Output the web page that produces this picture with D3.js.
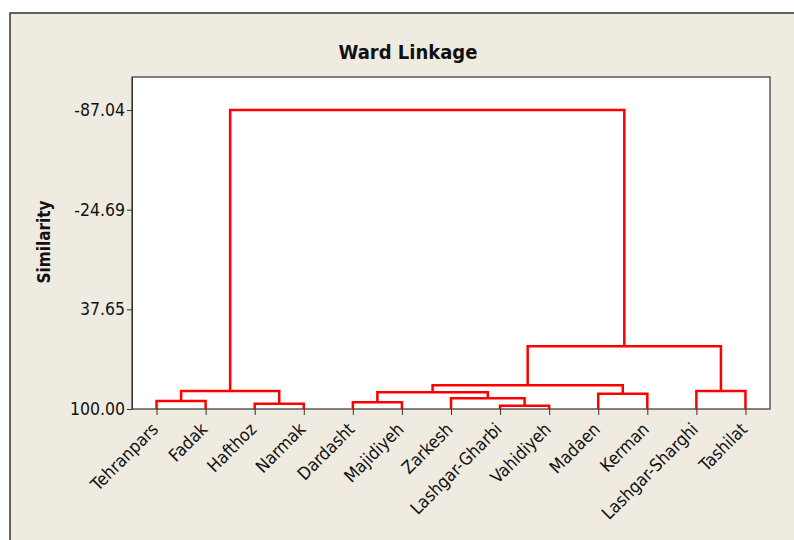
<!DOCTYPE html>
<html>
<head>
<meta charset="utf-8">
<script src="https://cdn.jsdelivr.net/npm/d3@7"></script>
<style>
  body { margin: 0; background: #fff; }
  svg { display: block; }
  text { font-family: "DejaVu Sans Condensed", "DejaVu Sans", sans-serif; fill: #111; }
</style>
</head>
<body>
<svg></svg>
<script>
var width = 794;
var height = 540;

// leaves in dendrogram order
var leaves = ["Tehranpars", "Fadak", "Hafthoz", "Narmak", "Dardasht", "Majidiyeh", "Zarkesh",
              "Lashgar-Gharbi", "Vahidiyeh", "Madaen", "Kerman", "Lashgar-Sharghi", "Tashilat"];

// merge steps: ids 0..12 are leaves, 13.. are the clusters made below (in order)
var mergePairs = [[7, 8], [2, 3], [4, 5], [0, 1], [6, 13], [9, 10], [15, 17],
                  [16, 14], [11, 12], [19, 18], [22, 21], [20, 23]];
var mergeSim = [97.9, 96.7, 95.8, 95.0, 93.3, 90.4, 89.55, 88.7, 88.7, 85.2, 60.8, -87.04];

var yTicks = [-87.04, -24.69, 37.65, 100.00];

var plot = {left: 132, right: 770, top: 77, bottom: 409};

var svg = d3.select("svg")
    .attr("width", width)
    .attr("height", height);

// outer frame
svg.append("rect")
    .attr("x", 10).attr("y", 13)
    .attr("width", 820).attr("height", 560)
    .attr("fill", "#efebe1")
    .attr("stroke", "#333").attr("stroke-width", 1.5);

svg.append("text")
    .attr("x", 408).attr("y", 59)
    .attr("text-anchor", "middle")
    .style("font-weight", "bold")
    .style("font-size", "20px")
    .text("Ward Linkage");

// plot area
svg.append("rect")
    .attr("x", plot.left).attr("y", plot.top)
    .attr("width", plot.right - plot.left).attr("height", plot.bottom - plot.top)
    .attr("fill", "#fff")
    .attr("stroke", "#333").attr("stroke-width", 1.2);

var x = d3.scalePoint()
    .domain(leaves)
    .range([plot.left, plot.right])
    .padding(0.5);

var y = d3.scaleLinear()
    .domain([100, -107.7])
    .range([plot.bottom, plot.top]);

// build node positions
var nodes = leaves.map(function(d) { return {x: x(d), s: 100}; });
mergePairs.forEach(function(p, i) {
  var a = nodes[p[0]], b = nodes[p[1]];
  nodes.push({x: (a.x + b.x) / 2, s: mergeSim[i], a: a, b: b});
});

var g = svg.append("g");
g.selectAll("path.link")
  .data(nodes.filter(function(d) { return d.a; }))
  .enter().append("path")
    .attr("class", "link")
    .attr("fill", "none")
    .attr("stroke", "#ff0000")
    .attr("stroke-width", 2.5)
    .attr("d", function(d) {
      return "M" + d.a.x + "," + y(d.a.s) +
             "V" + y(d.s) + "H" + d.b.x + "V" + y(d.b.s);
    });

// y axis
var yAxis = svg.append("g")
    .attr("transform", "translate(" + plot.left + ",0)")
    .call(d3.axisLeft(y).tickValues(yTicks).tickSize(5).tickSizeOuter(0).tickPadding(2)
      .tickFormat(function(d) { return d.toFixed(2); }));
yAxis.select(".domain").attr("stroke", "#333");
yAxis.selectAll(".tick line").attr("stroke", "#333");
yAxis.selectAll("text").style("font-size", "17.5px").attr("fill", "#111");

// x axis
var xAxis = svg.append("g")
    .attr("transform", "translate(0," + plot.bottom + ")")
    .call(d3.axisBottom(x).tickSize(6).tickSizeOuter(0));
xAxis.select(".domain").remove();
xAxis.selectAll(".tick line").attr("stroke", "#333");
xAxis.selectAll("text")
    .style("font-size", "17.5px")
    .attr("fill", "#111")
    .attr("text-anchor", "end")
    .attr("x", 0).attr("y", 0).attr("dy", "0.35em")
    .attr("transform", "translate(-2,17) rotate(-45)");

svg.append("text")
    .attr("transform", "translate(50,242) rotate(-90)")
    .attr("text-anchor", "middle")
    .style("font-weight", "bold")
    .style("font-size", "17px")
    .text("Similarity");
</script>
</body>
</html>
